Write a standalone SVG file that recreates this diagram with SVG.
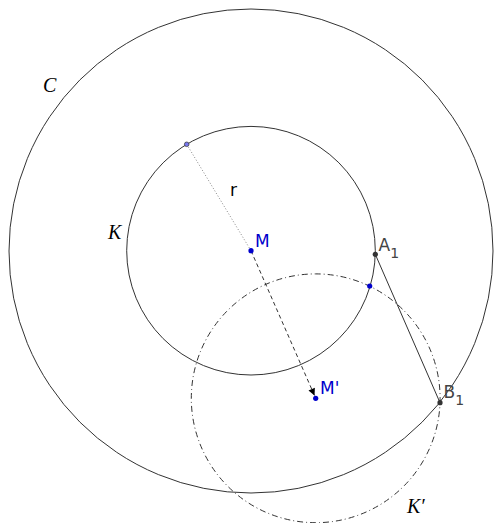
<svg xmlns="http://www.w3.org/2000/svg" width="495" height="523" viewBox="0 0 495 523">
<style>
.circ{fill:none;stroke:#333;stroke-width:1}
.lbl{font-family:"DejaVu Sans",sans-serif;font-size:17px}
.cal{font-family:"Liberation Serif","DejaVu Serif",serif;font-style:italic;font-size:20px;fill:#000}
.blue{fill:#0000cc}
.gray{fill:#444}
.sub{font-size:14px}
</style>
<defs>
<marker id="arr" viewBox="0 0 10 10" refX="10" refY="5" markerWidth="8" markerHeight="7" markerUnits="userSpaceOnUse" orient="auto">
<path d="M0,0 L10,5 L0,10 z" fill="#000"/>
</marker>
</defs>
<rect width="495" height="523" fill="#fff"/>
<g id="circle-C"><circle class="circ" cx="251" cy="251" r="242"/><text class="cal" x="43" y="92">C</text></g>
<g id="circle-K"><circle class="circ" cx="251" cy="250.7" r="124.3"/><text class="cal" x="108" y="239">K</text></g>
<g id="circle-K2"><circle class="circ" cx="315.7" cy="398.3" r="124.4" stroke-dasharray="6,3,1,3"/><text class="cal" x="407" y="513">K′</text></g>
<g id="connectors">
<line x1="186.7" y1="144.3" x2="251" y2="250.7" stroke="#888" stroke-width="1" stroke-dasharray="1,2"/>
<line x1="251" y1="250.7" x2="314.5" y2="395.5" stroke="#333" stroke-width="1" stroke-dasharray="4,3" marker-end="url(#arr)"/>
<line x1="375.3" y1="254.3" x2="440" y2="402.7" stroke="#333" stroke-width="1"/>
</g>
<g id="label-r"><text class="lbl" x="230" y="196" fill="#000">r</text></g>
<g id="point-top"><circle cx="186.7" cy="144.3" r="2.3" fill="#7777ee" stroke="#333" stroke-width="0.7"/></g>
<g id="point-M"><circle cx="251" cy="250.7" r="2.6" class="blue"/><text class="lbl blue" x="255" y="247">M</text></g>
<g id="point-M2"><circle cx="315.7" cy="398.3" r="2.6" class="blue"/><text class="lbl blue" x="320" y="394">M'</text></g>
<g id="point-A1"><circle cx="375.3" cy="254.3" r="2.6" fill="#333"/><text class="lbl gray" x="378.5" y="251">A<tspan class="sub" dy="7">1</tspan></text></g>
<g id="point-B1"><circle cx="440" cy="402.7" r="2.6" fill="#333"/><text class="lbl gray" x="443.5" y="398">B<tspan class="sub" dy="7">1</tspan></text></g>
<g id="point-I"><circle cx="369.7" cy="286" r="2.6" class="blue"/></g>
</svg>
